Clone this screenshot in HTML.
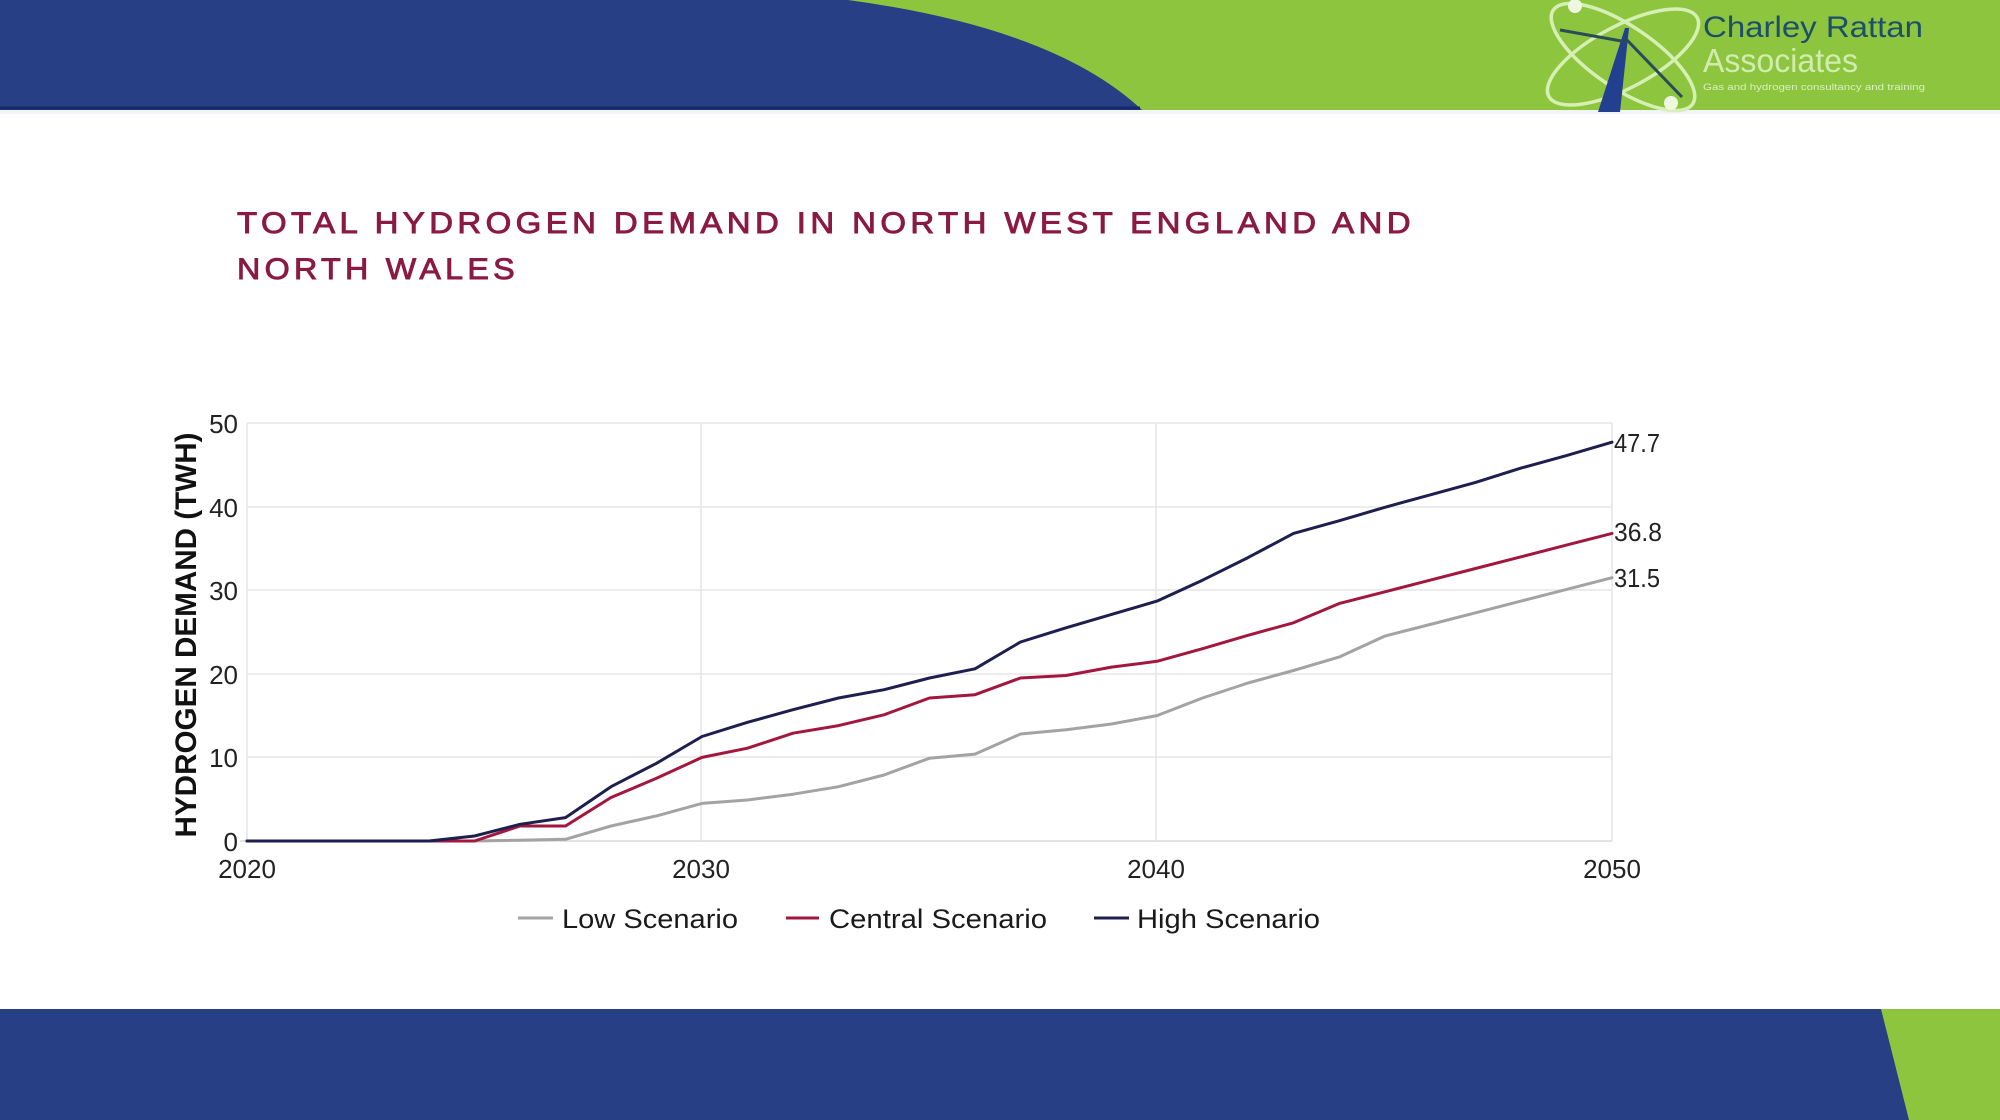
<!DOCTYPE html>
<html>
<head>
<meta charset="utf-8">
<style>
html,body{margin:0;padding:0;background:#fff;}
svg{display:block;}
</style>
</head>
<body>
<svg width="2000" height="1120" viewBox="0 0 2000 1120" xmlns="http://www.w3.org/2000/svg">
  <rect x="0" y="0" width="2000" height="1120" fill="#ffffff"/>
  <!-- Header -->
  <rect x="0" y="0" width="2000" height="110" fill="#8dc53e"/>
  <path d="M0,0 L848,0 Q1055,28 1142,110 L0,110 Z" fill="#263f85"/>
  <line x1="0" y1="108" x2="1140" y2="108" stroke="#16296b" stroke-width="3"/>
  <rect x="0" y="110" width="2000" height="4" fill="#f2f4f8"/>
  <!-- Logo -->
  <g fill="none" stroke="#d6efb4" stroke-width="3.5">
    <ellipse cx="1623" cy="57" rx="84" ry="31" transform="rotate(34 1623 57)"/>
    <ellipse cx="1623" cy="57" rx="84" ry="31" transform="rotate(-28 1623 57)"/>
  </g>
  <polygon points="1598,112 1620,112 1629,28 1625,28" fill="#22408f"/>
  <line x1="1560" y1="30" x2="1627" y2="42" stroke="#2b4a5c" stroke-width="3"/>
  <line x1="1627" y1="40" x2="1682" y2="97" stroke="#2b4a5c" stroke-width="3"/>
  <circle cx="1575" cy="6" r="7" fill="#eef8e0"/>
  <circle cx="1671" cy="103" r="7" fill="#eef8e0"/>
  <text x="1703" y="37" font-family="Liberation Sans, sans-serif" font-size="30" fill="#1d4e6b" textLength="220" lengthAdjust="spacingAndGlyphs">Charley Rattan</text>
  <text x="1703" y="72" font-family="Liberation Sans, sans-serif" font-size="33" fill="#d2ecb0" textLength="155" lengthAdjust="spacingAndGlyphs">Associates</text>
  <text x="1703" y="90" font-family="Liberation Sans, sans-serif" font-size="9" fill="#d8f0c0" textLength="222" lengthAdjust="spacingAndGlyphs">Gas and hydrogen consultancy and training</text>

  <!-- Title -->
  <g font-family="Liberation Sans, sans-serif" font-size="30" fill="#8a1a42" stroke="#8a1a42" stroke-width="0.9" letter-spacing="4">
    <text x="237" y="233" textLength="1178" lengthAdjust="spacingAndGlyphs">TOTAL HYDROGEN DEMAND IN NORTH WEST ENGLAND AND</text>
    <text x="237" y="279" textLength="282" lengthAdjust="spacingAndGlyphs">NORTH WALES</text>
  </g>

  <!-- Grid -->
  <g stroke="#e6e6e6" stroke-width="1.6">
    <line x1="247" y1="423" x2="1612" y2="423"/>
    <line x1="247" y1="507" x2="1612" y2="507"/>
    <line x1="247" y1="590" x2="1612" y2="590"/>
    <line x1="247" y1="674" x2="1612" y2="674"/>
    <line x1="247" y1="757" x2="1612" y2="757"/>
    <line x1="701" y1="423" x2="701" y2="841"/>
    <line x1="1156" y1="423" x2="1156" y2="841"/>
    <line x1="1612" y1="423" x2="1612" y2="841"/>
    <line x1="247" y1="423" x2="247" y2="841"/>
  </g>
  <line x1="240" y1="841" x2="1612" y2="841" stroke="#d8d8d8" stroke-width="1.6"/>

  <!-- Y ticks -->
  <g font-family="Liberation Sans, sans-serif" font-size="26" fill="#222" text-anchor="end">
    <text x="238" y="433">50</text>
    <text x="238" y="517">40</text>
    <text x="238" y="600">30</text>
    <text x="238" y="684">20</text>
    <text x="238" y="767">10</text>
    <text x="238" y="851">0</text>
  </g>
  <!-- X ticks -->
  <g font-family="Liberation Sans, sans-serif" font-size="26" fill="#222" text-anchor="middle">
    <text x="247" y="878">2020</text>
    <text x="701" y="878">2030</text>
    <text x="1156" y="878">2040</text>
    <text x="1612" y="878">2050</text>
  </g>
  <!-- Y axis title -->
  <text transform="translate(196,635) rotate(-90)" text-anchor="middle" font-family="Liberation Sans, sans-serif" font-weight="bold" font-size="30" fill="#111" textLength="405" lengthAdjust="spacingAndGlyphs">HYDROGEN DEMAND (TWH)</text>

  <!-- Series -->
  <g fill="none" stroke-width="3" stroke-linejoin="round" stroke-linecap="round">
    <polyline id="low" stroke="#a3a3a3" points=""/>
    <polyline id="central" stroke="#a3173f" points=""/>
    <polyline id="high" stroke="#1d1f4e" points=""/>
  </g>

  <!-- End labels -->
  <g font-family="Liberation Sans, sans-serif" font-size="26" fill="#222">
    <text x="1614" y="452" textLength="46" lengthAdjust="spacingAndGlyphs">47.7</text>
    <text x="1614" y="541" textLength="48" lengthAdjust="spacingAndGlyphs">36.8</text>
    <text x="1614" y="587" textLength="46" lengthAdjust="spacingAndGlyphs">31.5</text>
  </g>

  <!-- Legend -->
  <g stroke-width="3">
    <line x1="518" y1="918" x2="553" y2="918" stroke="#a3a3a3"/>
    <line x1="786" y1="918" x2="819" y2="918" stroke="#a3173f"/>
    <line x1="1094" y1="918" x2="1129" y2="918" stroke="#1d1f4e"/>
  </g>
  <g font-family="Liberation Sans, sans-serif" font-size="27" fill="#1a1a1a">
    <text x="562" y="928" textLength="176" lengthAdjust="spacingAndGlyphs">Low Scenario</text>
    <text x="829" y="928" textLength="218" lengthAdjust="spacingAndGlyphs">Central Scenario</text>
    <text x="1137" y="928" textLength="183" lengthAdjust="spacingAndGlyphs">High Scenario</text>
  </g>

  <!-- Footer -->
  <rect x="0" y="1009" width="2000" height="111" fill="#263f85"/>
  <polygon points="1881,1009 2000,1009 2000,1120 1909,1120" fill="#8dc53e"/>
</svg>
<script>
(function(){
  var high=[0,0,0,0,0,0.6,2.0,2.8,6.5,9.3,12.5,14.2,15.7,17.1,18.1,19.5,20.6,23.8,25.5,27.1,28.7,31.2,33.9,36.8,38.3,39.9,41.4,42.9,44.6,46.1,47.7];
  var central=[0,0,0,0,0,0,1.8,1.8,5.2,7.5,10.0,11.1,12.9,13.8,15.1,17.1,17.5,19.5,19.8,20.8,21.5,23.0,24.6,26.1,28.4,29.8,31.2,32.6,34.0,35.4,36.8];
  var low=[0,0,0,0,0,0,0.1,0.2,1.8,3.0,4.5,4.9,5.6,6.5,7.9,9.9,10.4,12.8,13.3,14.0,15.0,17.1,18.9,20.4,22.0,24.5,25.9,27.3,28.7,30.1,31.5];
  function pts(d){
    var s=[];
    for(var i=0;i<d.length;i++){
      var x=247+i*(1365/30);
      var y=841-d[i]*8.36;
      s.push(x.toFixed(1)+","+y.toFixed(1));
    }
    return s.join(" ");
  }
  document.getElementById("high").setAttribute("points",pts(high));
  document.getElementById("central").setAttribute("points",pts(central));
  document.getElementById("low").setAttribute("points",pts(low));
})();
</script>
</body>
</html>
